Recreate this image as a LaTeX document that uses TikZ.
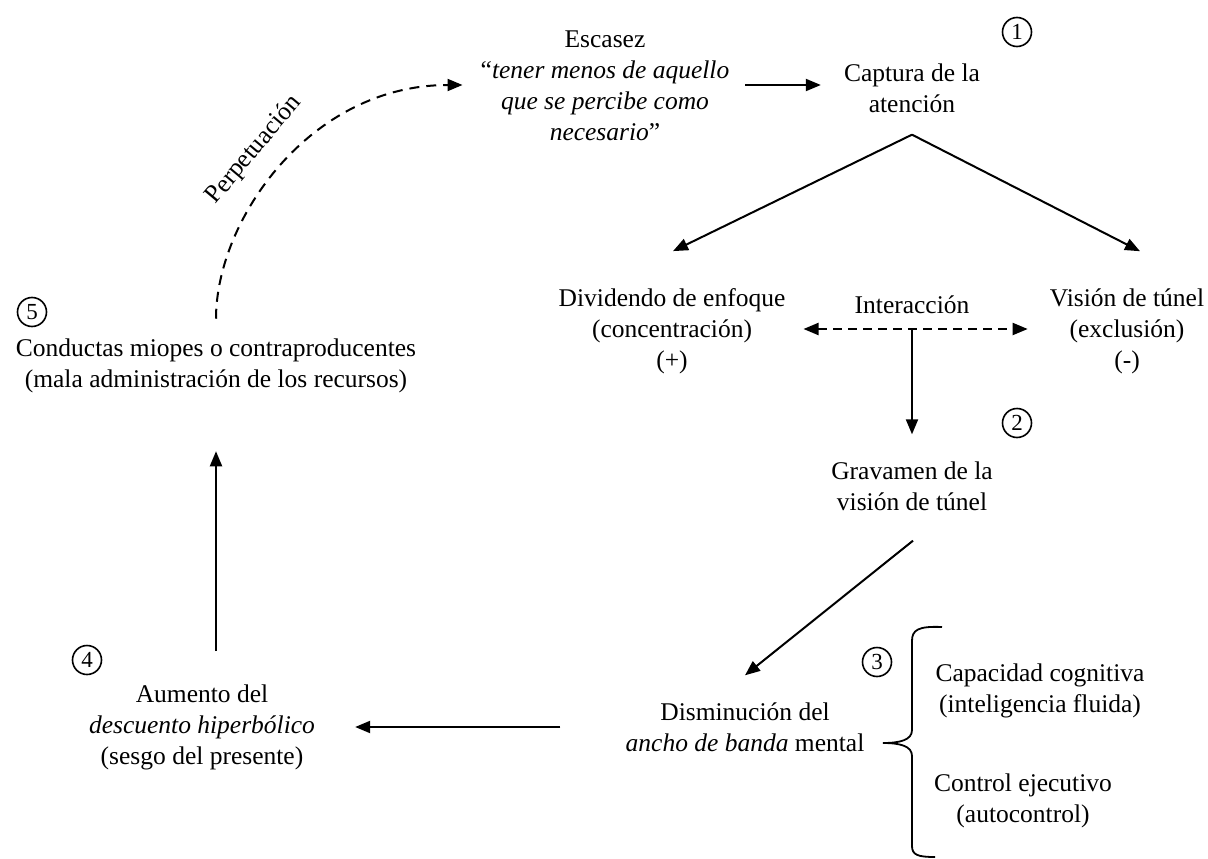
\documentclass[tikz,border=0pt]{standalone}
\usepackage{fontspec}
\setmainfont{Liberation Serif}
\usepackage{tikz}
\usetikzlibrary{arrows.meta, calc}

\begin{document}
\begin{tikzpicture}[
    x=1pt, y=-1pt,
    txt/.style={align=center, inner sep=0pt, font=\fontsize{25.5}{31}\selectfont},
    numcirc/.style={circle, draw, line width=1.6pt, inner sep=0pt, minimum size=29pt, font=\fontsize{23}{23}\selectfont},
    arrow/.style={-{Triangle[length=15pt,width=12pt]}, line width=2pt},
    dasharrow/.style={{Triangle[length=15pt,width=12pt]}-{Triangle[length=15pt,width=12pt]}, line width=2pt, dash pattern=on 9pt off 6pt},
    perparrow/.style={-{Triangle[length=15pt,width=12pt]}, line width=2pt, dash pattern=on 10pt off 7pt}
  ]
    \useasboundingbox (0,0) rectangle (1208,859);

    % Scarcity and attention capture
    \node[txt] (escasez) at (605,86) {Escasez\\
      “\textit{tener menos de aquello}\\
      \textit{que se percibe como}\\
      \textit{necesario}”};
    \node[txt] (captura) at (912,88) {Captura de la\\atención};
    \node[numcirc] (n1) at (1017,32) {1};

    % Focus dividend and tunnel vision
    \node[txt] (dividendo) at (672,331) {Dividendo de enfoque\\(concentración)\\(+)};
    \node[txt] (vision) at (1127,331) {Visión de túnel\\(exclusión)\\(-)};
    \node[txt] (interaccion) at (912,305) {Interacción};
    \coordinate (split) at (912,329);

    % Tunnel vision tax
    \node[txt] (gravamen) at (912,486) {Gravamen de la\\visión de túnel};
    \node[numcirc] (n2) at (1017,423) {2};

    % Bandwidth
    \node[txt] (disminucion) at (745,727) {Disminución del\\\textit{ancho de banda} mental};
    \node[numcirc] (n3) at (877,662) {3};
    \node[txt] (capacidad) at (1040,691) {Capacidad cognitiva\\(inteligencia fluida)};
    \node[txt] (control) at (1023,801) {Control ejecutivo\\(autocontrol)};

    % Hyperbolic discounting and behaviour
    \node[txt] (aumento) at (202,727) {Aumento del\\\textit{descuento hiperbólico}\\(sesgo del presente)};
    \node[numcirc] (n4) at (87,660) {4};
    \node[txt] (conductas) at (216,366) {Conductas miopes o contraproducentes\\(mala administración de los recursos)};
    \node[numcirc] (n5) at (32,312) {5};

    % Arrow from scarcity to capture
    \draw[arrow, shorten <=16pt, shorten >=23pt] (escasez.east |- 0,85) -- (captura.west |- 0,85);

    % Split from capture
    \coordinate (apex) at ([yshift=-22pt]captura.south);
    \draw[arrow] (apex) -- ($(vision.north)+(13,-37)$);
    \draw[arrow] (apex) -- ($(dividendo.north)+(1,-37)$);

    % Interaction
    \draw[dasharrow, shorten <=18pt, shorten >=22pt] (dividendo.east |- split) -- (vision.west |- split);
    \draw[arrow, shorten >=27pt] (split) -- (gravamen.north);

    % Down to bandwidth
    \draw[arrow] ($(gravamen.south)+(1,30)$) -- ($(disminucion.north)+(0,-27)$);

    % Bracket of bandwidth
    \draw[line width=1.8pt] (942,627) .. controls (918,626) and (912,630) .. (912,641) -- (912,730)
      .. controls (912,740) and (900,743) .. (883,743)
      .. controls (900,743) and (912,746) .. (912,756) -- (912,846)
      .. controls (912,855) and (918,857) .. (935,857);

    % Back to the left side
    \draw[arrow, shorten <=65pt, shorten >=40pt] (disminucion.west |- 0,727) -- (aumento.east |- 0,727);
    \draw[arrow, shorten <=33pt, shorten >=58pt] (conductas.south |- aumento.north) -- (conductas.south);

    % Perpetuation
    \draw[perparrow] ($(conductas.north)+(0,-20)$) .. controls (216,220) and (310,85) .. ($(escasez.west)+(-18,-1)$);
    \node[txt, rotate=50] (perpetuacion) at (254,150) {Perpetuación};
\end{tikzpicture}
\end{document}
